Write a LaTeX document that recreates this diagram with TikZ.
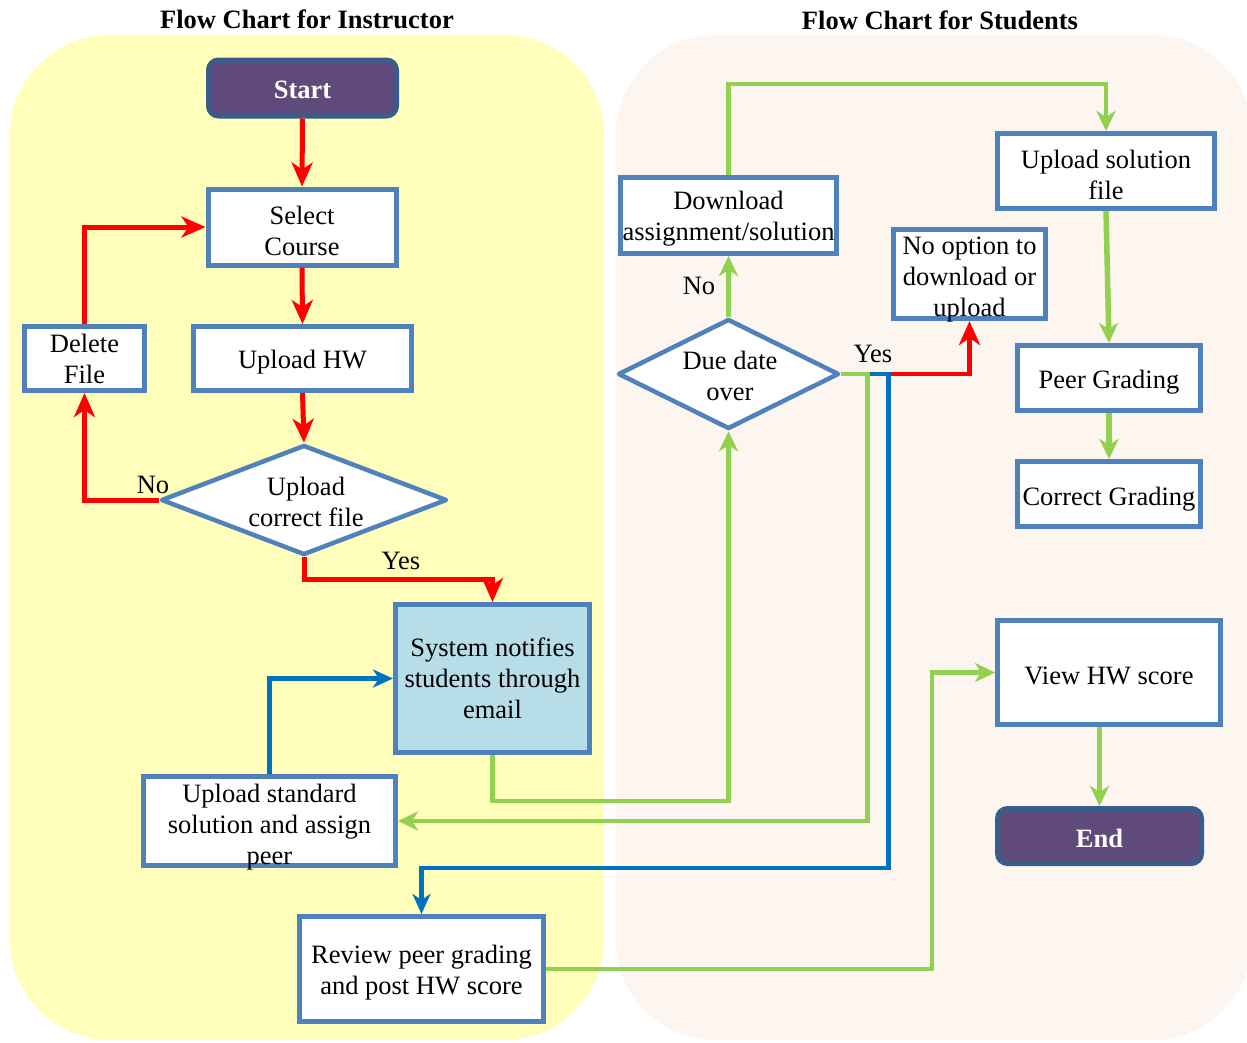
\documentclass[tikz,border=0pt]{standalone}
\usepackage{fontspec}
\setmainfont{Liberation Serif}
\usetikzlibrary{arrows.meta,shapes.geometric}
\definecolor{panelY}{RGB}{255,254,187}
\definecolor{panelP}{RGB}{253,245,239}
\definecolor{bordB}{RGB}{79,129,189}
\definecolor{darkB}{RGB}{56,93,138}
\definecolor{purp}{RGB}{96,74,123}
\definecolor{lblue}{RGB}{183,221,232}
\definecolor{grn}{RGB}{146,208,80}
\definecolor{blu}{RGB}{0,112,192}
\definecolor{rdd}{RGB}{255,0,0}
\begin{document}
\begin{tikzpicture}[x=1pt,y=-1pt,
  every node/.style={font=\fontsize{26.5}{31}\selectfont, align=center, inner sep=0pt},
  box/.style={draw=bordB, line width=5pt, fill=white, rectangle},
  term/.style={draw=darkB, line width=5pt, fill=purp, rounded corners=10pt},
  wtxt/.style={text=white, font=\fontsize{26.5}{31}\selectfont\bfseries},
  dia/.style={draw=bordB, line width=4.5pt, fill=white, diamond, line join=round},
  ttl/.style={font=\fontsize{26.5}{31}\selectfont\bfseries},
  redarr/.style={draw=rdd, line width=5pt, -{Stealth[length=24pt,width=21pt,inset=7pt]}},
  grnarr/.style={draw=grn, line width=4.5pt, -{Stealth[length=20pt,width=19pt,inset=6pt]}},
  bluarr/.style={draw=blu, line width=4.5pt, -{Stealth[length=20pt,width=18pt,inset=6pt]}}
]
\useasboundingbox (0,0) rectangle (1247,1042);
\fill[white] (0,0) rectangle (1247,1042);
% panels
\fill[panelY, rounded corners=100pt] (10,35) rectangle (604,1040);
\fill[panelP, rounded corners=100pt] (616,35) rectangle (1252,1040);
% titles
\node[ttl] (t1) at (307,19) {Flow Chart for Instructor};
\node[ttl] (t2) at (940,20) {Flow Chart for Students};
% instructor nodes
\node[term, minimum width=188pt, minimum height=56pt] (start) at (302.5,88) {};
\node[wtxt] (startt) at (302.5,90) {Start};
\node[box, minimum width=188pt, minimum height=76pt] (sel) at (302,227) {};
\node (selt) at (302,231) {Select\\Course};
\node[box, minimum width=218pt, minimum height=64pt] (uphw) at (302.5,358.5) {};
\node (uphwt) at (302.5,362.5) {Upload HW};
\node[box, minimum width=120pt, minimum height=64pt] (del) at (84.5,358.5) {Delete\\File};
\node[dia, minimum width=286pt, minimum height=110pt] (d1) at (304,500) {};
\node (d1t) at (306,502) {Upload\\correct file};
\node[box, fill=lblue, minimum width=194pt, minimum height=148pt] (sys) at (492.5,678.5) {System notifies\\students through\\email};
\node[box, minimum width=252pt, minimum height=89pt] (ups) at (269.5,821) {};
\node (upst) at (269.5,827) {Upload standard\\solution and assign\\peer};
\node[box, minimum width=244pt, minimum height=105pt] (rev) at (421.5,969) {};
\node (revt) at (421.5,973) {Review peer grading\\and post HW score};
% student nodes
\node[box, minimum width=216pt, minimum height=76pt] (dl) at (728.5,215.5) {};
\node (dlt) at (728.5,219) {Download\\assignment/solution};
\node[box, minimum width=217pt, minimum height=75pt] (usf) at (1106,171) {};
\node (usft) at (1106,175) {Upload solution\\file};
\node[box, minimum width=152pt, minimum height=89pt] (noopt) at (969.5,274) {};
\node (noptt) at (969.5,280) {No option to\\download or\\upload};
\node[dia, minimum width=221pt, minimum height=110pt] (d2) at (728.5,374) {};
\node (d2t) at (730,376) {Due date\\over};
\node[box, minimum width=183pt, minimum height=65pt] (peer) at (1109,378) {};
\node (peert) at (1109,382) {Peer Grading};
\node[box, minimum width=183pt, minimum height=65pt] (corr) at (1109,494) {};
\node (corrt) at (1109,499) {Correct Grading};
\node[box, minimum width=223pt, minimum height=104pt] (view) at (1109,672.5) {};
\node (viewt) at (1109,675.5) {View HW score};
\node[term, minimum width=204pt, minimum height=55pt] (endn) at (1099.5,836) {};
\node[wtxt] (endt) at (1099.5,838) {End};
% red connectors
\draw[redarr] (start.south) -- (sel.north);
\draw[redarr] (sel.south) -- (uphw.north);
\draw[redarr] (uphw.south) -- (d1.north);
\draw[redarr] (d1.west) -| (del.south);
\draw[redarr] (del.north) |- (sel.west);
\draw[redarr] (d1.south) -- ++(0,22) -| (sys.north);
\draw[redarr, line width=4.5pt] (d2.east) -| (noopt.south);
% blue connectors
\draw[bluarr] (ups.north) |- (sys.west);
\draw[bluarr] (d2.east) -- ++(47,0) -- ++(0,494) -| (rev.north);
% green connectors
\draw[grnarr] (sys.south) -- ++(0,46) -| (d2.south);
\draw[grnarr] (d2.north) -- (dl.south);
\draw[grnarr] (dl.north) -- ++(0,-91) -| (usf.north);
\draw[grnarr, line width=5.5pt] (usf.south) -- (peer.north);
\draw[grnarr, line width=5.5pt] (peer.south) -- (corr.north);
\draw[grnarr] (d2.east) -- ++(26,0) |- (ups.east);
\draw[grnarr] (rev.east) -- ++(386,0) |- (view.west);
\draw[grnarr, line width=5.5pt] (endn.north |- view.south) -- (endn.north);
% labels
\node (lno1) at (153,485) {No};
\node (lyes1) at (401,561) {Yes};
\node (lno2) at (699,286) {No};
\node (lyes2) at (873,354) {Yes};
\end{tikzpicture}
\end{document}
